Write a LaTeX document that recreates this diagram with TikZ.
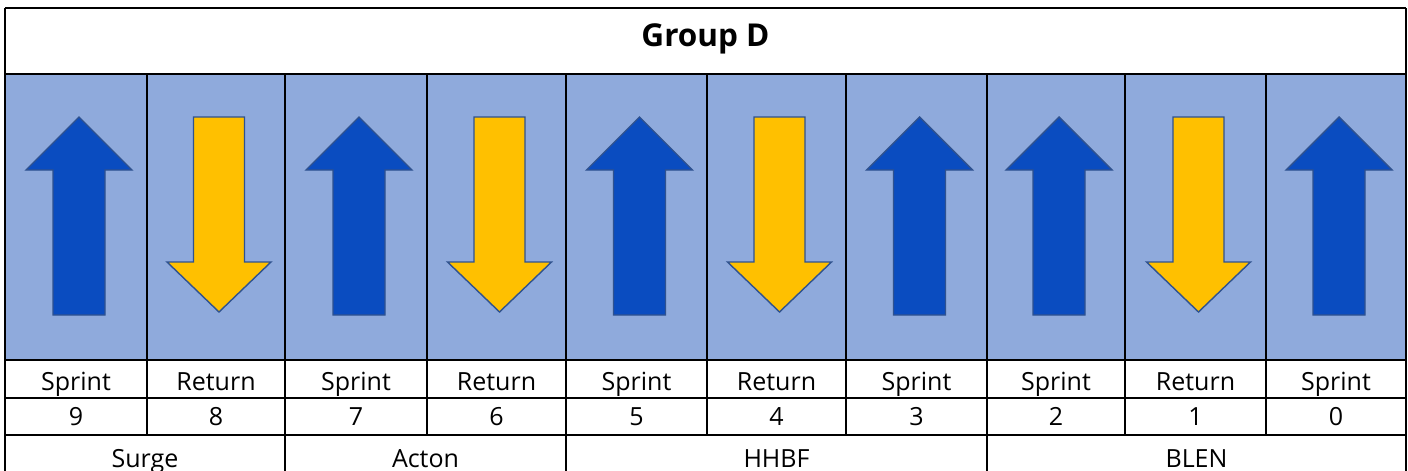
\documentclass[tikz,border=0pt]{standalone}
\usepackage{fontspec}
\setmainfont{Open Sans}
\definecolor{cellblue}{RGB}{143,170,220}
\definecolor{sprintblue}{RGB}{10,76,192}
\definecolor{returngold}{RGB}{255,192,0}
\definecolor{edgeblue}{RGB}{47,82,143}

\begin{document}
\begin{tikzpicture}[x=1pt,y=-1pt,
  gridline/.style={line width=1.9pt,black},
  lbl/.style={font=\fontsize{25}{30}\selectfont,inner sep=0pt,anchor=base},
  titlelbl/.style={font=\fontsize{31.5}{36}\selectfont\bfseries,inner sep=0pt,anchor=base},
  uparrowfill/.style={fill=sprintblue,draw=edgeblue,line width=1.4pt,line join=miter},
  downarrowfill/.style={fill=returngold,draw=edgeblue,line width=1.4pt,line join=miter}]
\useasboundingbox (0,0) rectangle (1408,471);

% title row
\fill[white] (5,8) rectangle (1406,74);
\node[titlelbl] (title) at (705.5,46.5) {Group D};

% arrow cells, direction label and lap number for each column
\foreach \l/\r/\k/\word/\num [count=\i] in {
    5/147/1/Sprint/9, 147/285/0/Return/8, 285/427/1/Sprint/7,
    427/566/0/Return/6, 566/707/1/Sprint/5, 707/846/0/Return/4,
    846/987/1/Sprint/3, 987/1125/1/Sprint/2, 1125/1266/0/Return/1,
    1266/1406/1/Sprint/0}{
  \pgfmathsetmacro\mid{(\l+\r)/2}
  \pgfmathsetmacro\cx{\mid+3}
  \fill[cellblue] (\l,74) rectangle (\r,360);
  \ifnum\k=1
    \draw[uparrowfill] (\cx,117) -- (\cx+53,170) -- (\cx+26,170) -- (\cx+26,315)
      -- (\cx-26,315) -- (\cx-26,170) -- (\cx-53,170) -- cycle;
  \else
    \draw[downarrowfill] (\cx-25.5,117) -- (\cx+25.5,117) -- (\cx+25.5,262)
      -- (\cx+52,262) -- (\cx,312) -- (\cx-52,262) -- (\cx-25.5,262) -- cycle;
  \fi
  \node[lbl] (dir\i) at (\mid,390) {\word};
  \node[lbl] (num\i) at (\mid,425) {\num};
}

% team names
\node[lbl] (surge) at (145,467.5) {Surge};
\node[lbl] (acton) at (425.5,467.5) {Acton};
\node[lbl] (hhbf) at (776.5,467.5) {HHBF};
\node[lbl] (blen) at (1196.5,467.5) {BLEN};

% table rules
\foreach \y in {8,74,360,398,435,481}
  \draw[gridline] (5,\y) -- (1406,\y);
\foreach \x in {5,1406}
  \draw[gridline] (\x,8) -- (\x,481);
\foreach \x in {147,285,427,566,707,846,987,1125,1266}
  \draw[gridline] (\x,74) -- (\x,435);
\foreach \x in {285,566,987}
  \draw[gridline] (\x,435) -- (\x,481);
\end{tikzpicture}
\end{document}
